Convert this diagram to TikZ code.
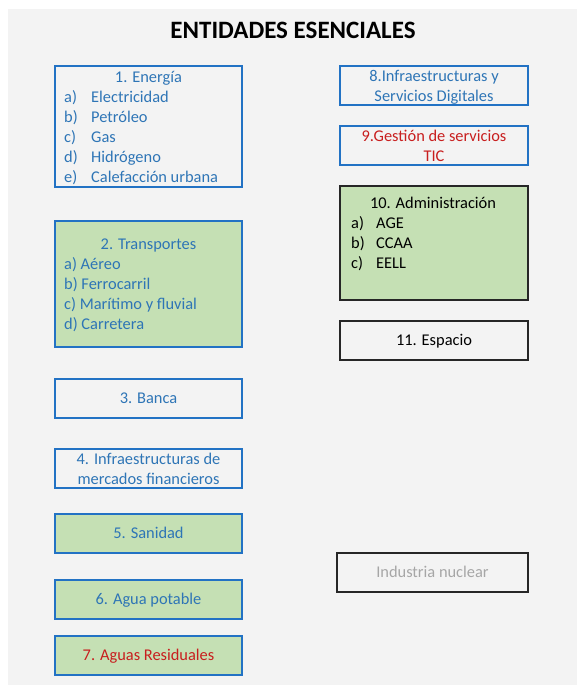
\documentclass[tikz,border=0pt]{standalone}
\usepackage{fontspec}
\setmainfont{Carlito}
\usetikzlibrary{positioning}
\definecolor{bgrey}{HTML}{F3F3F3}
\definecolor{sblue}{HTML}{2E75B6}
\definecolor{sborde}{HTML}{2272C4}
\definecolor{sgreen}{HTML}{C5E0B4}
\definecolor{sred}{HTML}{C81E1E}
\definecolor{sgray}{HTML}{A6A6A6}

\begin{document}
\begin{tikzpicture}[x=1pt,y=-1pt,font=\fontsize{16.4}{20}\selectfont,
    sector/.style={draw=sborde, line width=1.6pt, text=sblue, align=center,
        minimum width=187pt, minimum height=39pt, inner sep=0pt},
    linea/.style={text height=12pt, text depth=3pt},
    dos/.style={yshift=-2pt},
    esencial/.style={sector, fill=sgreen},
    admin/.style={sector, draw=black!85, text=black},
    item/.style={anchor=base west, inner sep=0pt, text=sblue}]

            \useasboundingbox (0,0) rectangle (577,685);
            \fill[bgrey] (8,9) rectangle (577,685);

            \node[font=\bfseries\fontsize{25}{30}\selectfont] (titulo) at (293,30) {ENTIDADES ESENCIALES};

            % columna izquierda
            \node[sector, minimum height=121pt] (energia) at (148.5,126.5) {};
            \node[anchor=base, inner sep=0pt, text=sblue] (energiaT) at (148.5,82) {1. Energía};
            \foreach \l/\t [count=\i] in {a/Electricidad, b/Petróleo, c/Gas, d/Hidrógeno, e/Calefacción urbana} {
                    \node[item] (energia\l) at (64,82+20*\i) {\makebox[27pt][l]{\l)}\t};
                }

            \node[esencial, minimum height=126pt] (transp) at (148.5,284) {};
            \node[anchor=base, inner sep=0pt, text=sblue] (transpT) at (148.5,249) {2. Transportes};
            \foreach \l/\t [count=\i] in {a/Aéreo, b/Ferrocarril, c/Marítimo y fluvial, d/Carretera} {
                    \node[item] (transp\l) at (64,249+20*\i) {\l) \t};
                }

            \node[sector, linea] (banca) at (148.5,398.5) {3. Banca};
            \node[sector] (mercados) at (148.5,468.5) {};
            \node[dos, align=center, inner sep=0pt, text=sblue] (mercadosT) at (mercados.center) {4. Infraestructuras de\\mercados financieros\vphantom{g}};
            \node[esencial, linea] (sanidad) at (148.5,533.5) {5. Sanidad};
            \node[esencial, linea] (agua) at (148.5,599.5) {6. Agua potable};
            \node[esencial, linea, text=sred] (residuales) at (148.5,655.5) {7. Aguas Residuales};

            % columna derecha
            \node[sector, minimum width=188pt] (digital) at (434,85.5) {};
            \node[dos, align=center, inner sep=0pt, text=sblue] (digitalT) at (digital.center) {\vphantom{f}8.Infraestructuras y\\Servicios Digitales};
            \node[sector, minimum width=188pt] (tic) at (434,145.5) {};
            \node[dos, align=center, inner sep=0pt, text=sred] (ticT) at (tic.center) {9.Gestión de servicios\\TIC\vphantom{g}};

            \node[admin, fill=sgreen, minimum width=188pt, minimum height=114pt] (administ) at (434,243) {};
            \node[anchor=base, inner sep=0pt] (administT) at (433,208) {10. Administración};
            \foreach \l/\t [count=\i] in {a/AGE, b/CCAA, c/EELL} {
                    \node[item, text=black] (administ\l) at (351,208+20*\i) {\makebox[25pt][l]{\l)}\t};
                }

            \node[admin, linea, minimum width=188pt] (espacio) at (434,340.5) {11. Espacio};
            \node[admin, linea, minimum width=191pt, text=sgray] (nuclear) at (432.5,572.5) {Industria nuclear};
        \end{tikzpicture}
\end{document}
